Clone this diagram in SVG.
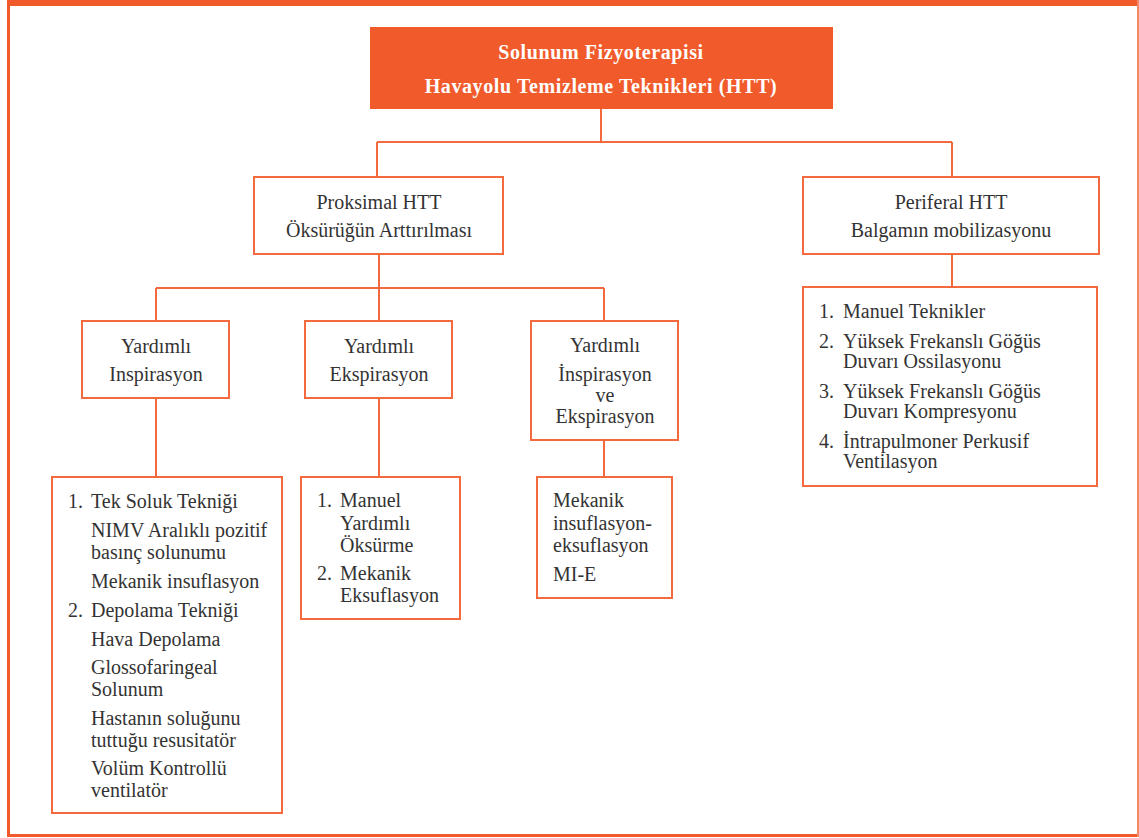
<svg xmlns="http://www.w3.org/2000/svg" width="1139" height="838" viewBox="0 0 1139 838">
<style>
.box{fill:#fff;stroke:#F26A3E;stroke-width:2}
.ln{fill:none;stroke:#F26A3E;stroke-width:2}
.t{font-family:"Liberation Serif","DejaVu Serif",serif;font-size:20px;fill:#333}
.c{text-anchor:middle}
.h{font-family:"Liberation Serif","DejaVu Serif",serif;font-size:20px;font-weight:bold;letter-spacing:0.6px;fill:#fff;text-anchor:middle}
</style>
<rect x="0" y="0" width="1139" height="838" fill="#fff"/>
<g id="frame">
<rect x="7" y="0" width="1132" height="6" fill="#F15A2B"/>
<rect x="7" y="0" width="3" height="837" fill="#F15A2B"/>
<rect x="7" y="834" width="1132" height="3" fill="#F15A2B"/>
<rect x="1137" y="0" width="2" height="837" fill="#F4896A"/>
</g>
<g id="connectors">
<path class="ln" d="M601 109V142M377 142H952M377 142V177M952 142V177"/>
<path class="ln" d="M379 254V288M156 288H604M156 288V321M379 288V321M604 288V321"/>
<path class="ln" d="M156 398V477M379 398V477M604 440V477M952 254V287"/>
</g>
<g id="root">
<rect x="370" y="27" width="463" height="82" fill="#F15A2B"/>
<text class="h" x="601" y="59">Solunum Fizyoterapisi</text>
<text class="h" x="601" y="93">Havayolu Temizleme Teknikleri (HTT)</text>
</g>
<g id="proksimal">
<rect class="box" x="254" y="177" width="249" height="77"/>
<text class="t c" x="379" y="209">Proksimal HTT</text>
<text class="t c" x="379" y="237">Öksürüğün Arttırılması</text>
</g>
<g id="periferal">
<rect class="box" x="803" y="177" width="296" height="77"/>
<text class="t c" x="951" y="209">Periferal HTT</text>
<text class="t c" x="951" y="237">Balgamın mobilizasyonu</text>
</g>
<g id="yard-insp">
<rect class="box" x="82" y="321" width="147" height="77"/>
<text class="t c" x="156" y="353">Yardımlı</text>
<text class="t c" x="156" y="381">Inspirasyon</text>
</g>
<g id="yard-eksp">
<rect class="box" x="305" y="321" width="147" height="77"/>
<text class="t c" x="379" y="353">Yardımlı</text>
<text class="t c" x="379" y="381">Ekspirasyon</text>
</g>
<g id="yard-insp-eksp">
<rect class="box" x="531" y="321" width="147" height="119"/>
<text class="t c" x="605" y="352">Yardımlı</text>
<text class="t c" x="605" y="381">İnspirasyon</text>
<text class="t c" x="605" y="402">ve</text>
<text class="t c" x="605" y="423">Ekspirasyon</text>
</g>
<g id="list-insp">
<rect class="box" x="52" y="477" width="230" height="336"/>
<text class="t" x="68" y="508">1.</text>
<text class="t" x="91" y="508">Tek Soluk Tekniği</text>
<text class="t" x="91" y="537">NIMV Aralıklı pozitif</text>
<text class="t" x="91" y="559">basınç solunumu</text>
<text class="t" x="91" y="588">Mekanik insuflasyon</text>
<text class="t" x="68" y="617">2.</text>
<text class="t" x="91" y="617">Depolama Tekniği</text>
<text class="t" x="91" y="646">Hava Depolama</text>
<text class="t" x="91" y="674">Glossofaringeal</text>
<text class="t" x="91" y="696">Solunum</text>
<text class="t" x="91" y="725">Hastanın soluğunu</text>
<text class="t" x="91" y="747">tuttuğu resusitatör</text>
<text class="t" x="91" y="775">Volüm Kontrollü</text>
<text class="t" x="91" y="797">ventilatör</text>
</g>
<g id="list-eksp">
<rect class="box" x="301" y="477" width="159" height="142"/>
<text class="t" x="317" y="507">1.</text>
<text class="t" x="340" y="507">Manuel</text>
<text class="t" x="340" y="530">Yardımlı</text>
<text class="t" x="340" y="552">Öksürme</text>
<text class="t" x="317" y="580">2.</text>
<text class="t" x="340" y="580">Mekanik</text>
<text class="t" x="340" y="602">Eksuflasyon</text>
</g>
<g id="list-mie">
<rect class="box" x="537" y="477" width="135" height="121"/>
<text class="t" x="553" y="507">Mekanik</text>
<text class="t" x="553" y="530">insuflasyon-</text>
<text class="t" x="553" y="552">eksuflasyon</text>
<text class="t" x="553" y="581">MI-E</text>
</g>
<g id="list-periferal">
<rect class="box" x="803" y="287" width="294" height="199"/>
<text class="t" x="819" y="318">1.</text>
<text class="t" x="843" y="318">Manuel Teknikler</text>
<text class="t" x="819" y="348">2.</text>
<text class="t" x="843" y="348">Yüksek Frekanslı Göğüs</text>
<text class="t" x="843" y="368">Duvarı Ossilasyonu</text>
<text class="t" x="819" y="398">3.</text>
<text class="t" x="843" y="398">Yüksek Frekanslı Göğüs</text>
<text class="t" x="843" y="418">Duvarı Kompresyonu</text>
<text class="t" x="819" y="448">4.</text>
<text class="t" x="843" y="448">İntrapulmoner Perkusif</text>
<text class="t" x="843" y="468">Ventilasyon</text>
</g>
</svg>
